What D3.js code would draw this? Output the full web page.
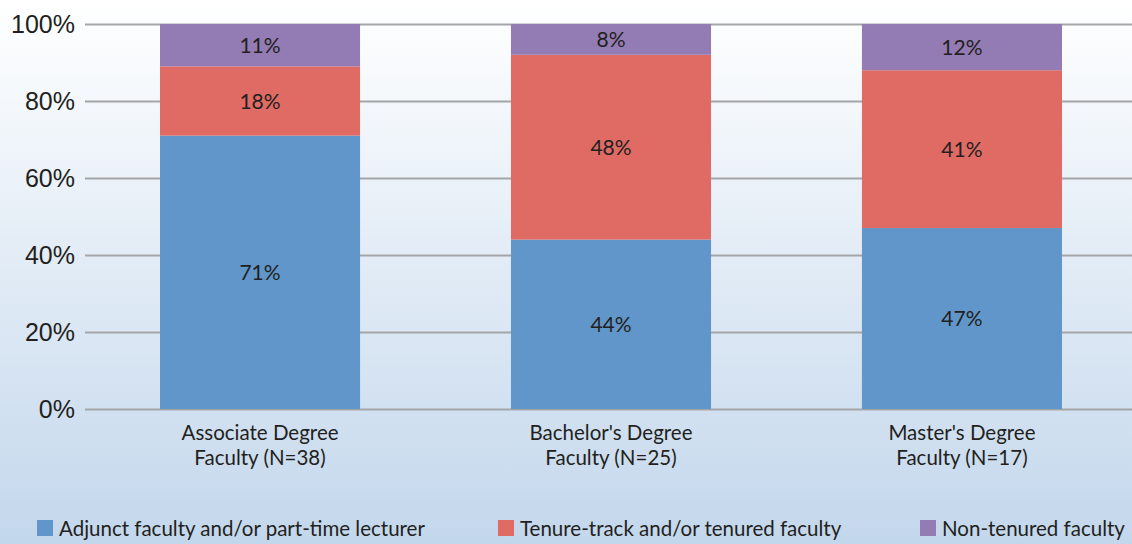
<!DOCTYPE html>
<html>
<head>
<meta charset="utf-8">
<script src="https://cdn.jsdelivr.net/npm/d3@7"></script>
<style>
  body { margin: 0; }
  svg { display: block; font-family: Lato, "Noto Sans", sans-serif; }
</style>
</head>
<body>
<div id="chart"></div>
<script>
// data
const categories = ["Associate Degree|Faculty (N=38)", "Bachelor's Degree|Faculty (N=25)", "Master's Degree|Faculty (N=17)"];
const seriesNames = ["Adjunct faculty and/or part-time lecturer", "Tenure-track and/or tenured faculty", "Non-tenured faculty"];
const adjunct = [71, 44, 47];
const tenured = [18, 48, 41];
const nonTenured = [11, 8, 12];
const yTicks = [0, 20, 40, 60, 80, 100];
const colors = ["#6096c9", "#e06b64", "#937bb3"];

const W = 1132, H = 544;
const margin = { top: 24, right: 0, bottom: 135, left: 85 };
const width = W - margin.left - margin.right,
    height = H - margin.top - margin.bottom;

const svg = d3.select("#chart").append("svg")
    .attr("width", W)
    .attr("height", H);

// background gradient
const grad = svg.append("defs").append("linearGradient")
    .attr("id", "bg").attr("x1", 0).attr("y1", 0).attr("x2", 0).attr("y2", 1);
grad.append("stop").attr("offset", "0%").attr("stop-color", "#ffffff");
grad.append("stop").attr("offset", "100%").attr("stop-color", "#c3d7ec");
svg.append("rect").attr("width", W).attr("height", H).attr("fill", "url(#bg)");

const g = svg.append("g")
    .attr("transform", "translate(" + margin.left + "," + margin.top + ")");

const x = d3.scaleBand()
    .domain(categories)
    .range([0, 1052])
    .paddingInner(0.43)
    .paddingOuter(0.2137);

const y = d3.scaleLinear()
    .domain([0, 100])
    .range([height, 0]);

// gridlines + y labels
const yAxis = g.append("g")
    .call(d3.axisLeft(y).tickValues(yTicks).tickSize(-width).tickFormat(d => d + "%"));
yAxis.select(".domain").remove();
yAxis.selectAll(".tick line").attr("stroke", "#a3a5a8").attr("stroke-width", 2);
yAxis.selectAll(".tick text")
    .attr("x", -10)
    .attr("fill", "#231f20")
    .style("font-size", "25px");

// stack
const rows = categories.map((c, i) => ({ cat: c, s0: adjunct[i], s1: tenured[i], s2: nonTenured[i] }));
const stack = d3.stack().keys(["s0", "s1", "s2"])(rows);

const layers = g.selectAll(".layer")
    .data(stack)
    .enter().append("g")
    .attr("fill", (d, i) => colors[i]);

layers.selectAll("rect")
    .data(d => d)
    .enter().append("rect")
    .attr("x", d => x(d.data.cat))
    .attr("y", d => y(d[1]))
    .attr("width", x.bandwidth())
    .attr("height", d => y(d[0]) - y(d[1]));

layers.selectAll("text")
    .data(d => d)
    .enter().append("text")
    .attr("x", d => x(d.data.cat) + x.bandwidth() / 2)
    .attr("y", d => (y(d[0]) + y(d[1])) / 2)
    .attr("dy", "0.36em")
    .attr("text-anchor", "middle")
    .attr("fill", "#231f20")
    .style("font-size", "21px")
    .text(d => Math.round(d[1] - d[0]) + "%");

// category labels
const catLabels = g.append("g").selectAll("text")
    .data(categories)
    .enter().append("text")
    .attr("x", d => x(d) + x.bandwidth() / 2)
    .attr("y", height + 31)
    .attr("text-anchor", "middle")
    .attr("fill", "#231f20")
    .style("font-size", "20.5px");
catLabels.each(function (d) {
    const parts = d.split("|");
    const t = d3.select(this);
    parts.forEach((p, i) => {
        t.append("tspan").attr("x", x(d) + x.bandwidth() / 2).attr("dy", i === 0 ? 0 : 25).text(p);
    });
});

// legend
const legendX = [37, 498, 920];
const legend = svg.append("g").selectAll("g")
    .data(seriesNames)
    .enter().append("g")
    .attr("transform", (d, i) => "translate(" + legendX[i] + ",520)");
legend.append("rect")
    .attr("width", 16).attr("height", 16)
    .attr("fill", (d, i) => colors[i]);
legend.append("text")
    .attr("x", 22).attr("y", 16)
    .attr("fill", "#231f20")
    .style("font-size", "20.5px")
    .text(d => d);
</script>
</body>
</html>
